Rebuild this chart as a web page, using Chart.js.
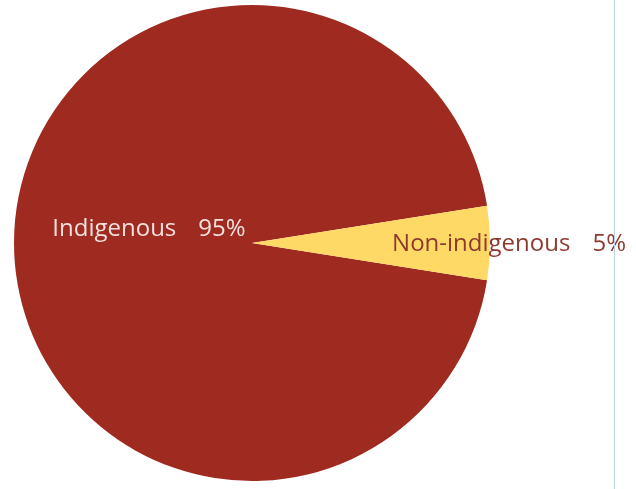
<!DOCTYPE html>
<html>
<head>
<meta charset="utf-8">
<script src="https://cdn.jsdelivr.net/npm/chart.js@4"></script>
<style>
html,body{margin:0;padding:0;background:#fff;}
#wrap{width:636px;height:489px;position:relative;}
</style>
</head>
<body>
<div id="wrap"><canvas id="c" width="636" height="489"></canvas></div>
<script>
const categories = ["Indigenous", "Non-indigenous"];
const shares = [95, 5];
const shareLabels = ["95%", "5%"];

const sliceColors = ["#9E2A20", "#FFD966"];
const labelColors = ["#F4E1DE", "#8E3A2E"];

const labelPlugin = {
  id: "sliceLabels",
  afterDatasetsDraw(chart) {
    const ctx = chart.ctx;
    const meta = chart.getDatasetMeta(0);
    ctx.save();
    ctx.font = "24px 'Open Sans', sans-serif";
    ctx.textBaseline = "middle";
    ctx.textAlign = "left";
    const gap = 22;
    meta.data.forEach((arc, i) => {
      const p = arc.getProps(["x", "y", "startAngle", "endAngle", "outerRadius"], true);
      const mid = (p.startAngle + p.endAngle) / 2;
      ctx.fillStyle = labelColors[i];
      let cx, cy;
      if (i === 0) {
        cx = p.x + Math.cos(mid) * p.outerRadius * 0.433;
        cy = p.y + Math.sin(mid) * p.outerRadius * 0.433 - 14;
      } else {
        cx = p.x + Math.cos(mid) * p.outerRadius * 1.08;
        cy = p.y + Math.sin(mid) * p.outerRadius * 1.08 + 1;
      }
      const w1 = ctx.measureText(categories[i]).width;
      const w2 = ctx.measureText(shareLabels[i]).width;
      const left = cx - (w1 + gap + w2) / 2;
      ctx.fillText(categories[i], left, cy);
      ctx.fillText(shareLabels[i], left + w1 + gap, cy);
    });
    ctx.restore();
  }
};

const linePlugin = {
  id: "sideLine",
  afterDraw(chart) {
    const ctx = chart.ctx;
    ctx.save();
    ctx.strokeStyle = "#B9D3EC";
    ctx.lineWidth = 1;
    ctx.beginPath();
    ctx.moveTo(614.5, 0);
    ctx.lineTo(614.5, chart.height);
    ctx.stroke();
    ctx.restore();
  }
};

new Chart(document.getElementById("c"), {
  type: "pie",
  data: {
    labels: categories,
    datasets: [{
      data: shares,
      backgroundColor: sliceColors,
      borderWidth: 0
    }]
  },
  options: {
    responsive: false,
    animation: false,
    rotation: 99,
    layout: { padding: { left: 14, right: 146, top: 5, bottom: 8 } },
    plugins: {
      legend: { display: false },
      tooltip: { enabled: false }
    }
  },
  plugins: [labelPlugin, linePlugin]
});
</script>
</body>
</html>
